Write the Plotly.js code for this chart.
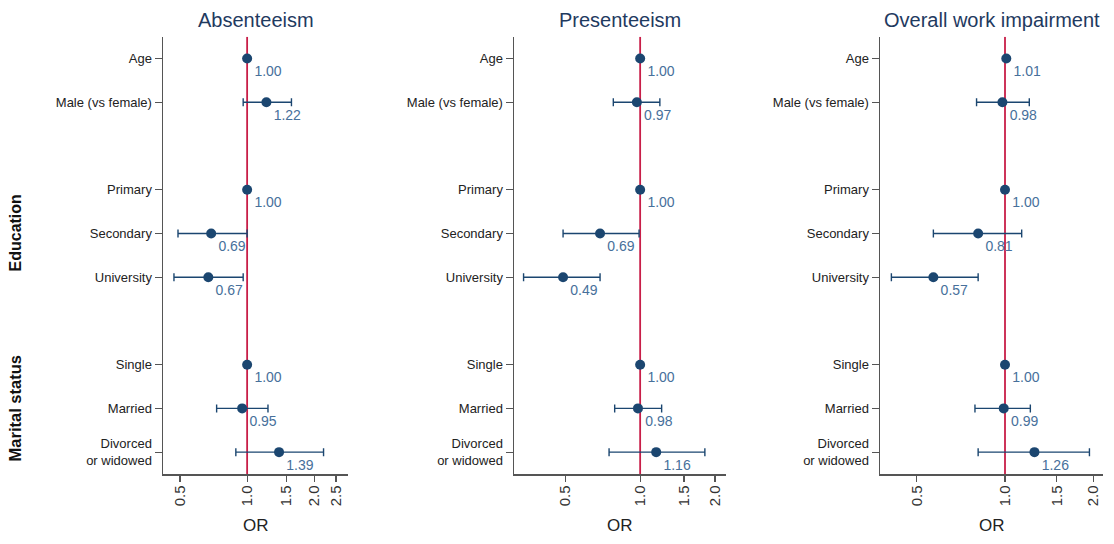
<!DOCTYPE html>
<html><head><meta charset="utf-8">
<script src="https://cdn.plot.ly/plotly-3.0.1.min.js"></script>
<style>html,body{margin:0;padding:0;background:#fff}#chart{width:1114px;height:544px}</style>
</head><body><div id="chart"></div>
<script>
// Rows (categories) and their vertical slots (gaps separate groups)
const rowLabels = ['Age','Male (vs female)','Primary','Secondary','University','Single','Married','Divorced<br>or widowed'];
const rowSlots = [0,1,3,4,5,7,8,9];
const groupLabels = ['Education','Marital status'];
const panelTitles = ['Absenteeism','Presenteeism','Overall work impairment'];

// Odds ratios with 95% CI (null = reference / CI not visible)
const absOR = [1.00,1.22,1.00,0.69,0.67,1.00,0.95,1.39];
const absLo = [null,0.96,null,0.49,0.47,null,0.73,0.89];
const absHi = [null,1.58,null,1.00,0.96,null,1.24,2.20];

const presOR = [1.00,0.97,1.00,0.69,0.49,1.00,0.98,1.16];
const presLo = [null,0.78,null,0.49,0.34,null,0.79,0.75];
const presHi = [null,1.20,null,0.99,0.69,null,1.22,1.82];

const owiOR = [1.01,0.98,1.00,0.81,0.57,1.00,0.99,1.26];
const owiLo = [null,0.80,null,0.57,0.41,null,0.79,0.81];
const owiHi = [null,1.21,null,1.14,0.81,null,1.22,1.94];

const tickVals1 = [0.5,1,1.5,2,2.5];
const tickVals23 = [0.5,1,1.5,2];
const refOR = 1;

const W = 1114, H = 544;
const navy = '#1b4670', labelBlue = '#47709b', red = '#c81e48', axisCol = '#555';
const font = 'Liberation Sans, Arial, sans-serif';

const panels = [
  {or: absOR, lo: absLo, hi: absHi, xr: [-0.377,0.452], ticks: tickVals1, dom: [163/W, 348/W]},
  {or: presOR, lo: presLo, hi: presHi, xr: [-0.507,0.345], ticks: tickVals23, dom: [514/W, 726/W]},
  {or: owiOR, lo: owiLo, hi: owiHi, xr: [-0.426,0.334], ticks: tickVals23, dom: [880/W, 1103/W]}
];
const yRange = [9.5,-0.5];
const yDom = [1-474/H, 1-36.7/H];

const traces = [], layout = {
  width: W, height: H, margin: {l:0,r:0,t:0,b:0},
  paper_bgcolor:'#fff', plot_bgcolor:'#fff', showlegend:false,
  font: {family: font, color:'#222'}, annotations: []
};

panels.forEach((p, i) => {
  const sfx = i === 0 ? '' : String(i+1);
  const xa = 'x'+sfx, ya = 'y'+sfx;
  // reference line at OR = 1
  traces.push({x:[refOR,refOR], y:[yRange[1],yRange[0]], xaxis:xa, yaxis:ya, mode:'lines',
    line:{color:red, width:1.8}, hoverinfo:'skip', cliponaxis:false});
  traces.push({
    x: p.or, y: rowSlots, xaxis: xa, yaxis: ya, mode: 'markers+text',
    text: p.or.map(v => v.toFixed(2)), textposition: 'bottom right',
    textfont: {size: 14, color: labelBlue, family: font},
    marker: {size: 10, color: navy},
    error_x: {type:'data', symmetric:false,
      array: p.or.map((v,k) => p.hi[k]==null ? 0 : p.hi[k]-v),
      arrayminus: p.or.map((v,k) => p.lo[k]==null ? 0 : v-p.lo[k]),
      color: navy, thickness: 1.4, width: 4, visible: true},
    cliponaxis: false
  });
  layout['xaxis'+sfx] = {
    type:'log', range:p.xr, domain:p.dom, anchor:ya,
    tickvals:p.ticks, ticktext:p.ticks.map(v=>v.toFixed(1)), tickangle:-90,
    ticks:'outside', ticklen:6, tickcolor:axisCol, tickwidth:1.2, ticklabelstandoff:-2,
    showline:true, linecolor:axisCol, linewidth:1.5, showgrid:false, zeroline:false,
    tickfont:{size:15, color:'#333', family:font}, fixedrange:true
  };
  layout['yaxis'+sfx] = {
    range:yRange, domain:yDom, anchor:xa,
    tickvals:rowSlots, ticktext:rowLabels,
    ticks:'outside', ticklen:7, tickcolor:axisCol, tickwidth:1.2,
    showline:true, linecolor:axisCol, linewidth:1.5, showgrid:false, zeroline:false,
    tickfont:{size:13, color:'#222', family:font}, fixedrange:true
  };
  layout.annotations.push({text: panelTitles[i], xref: xa+' domain', x:0.5, yref:'paper', y:1-20/H,
    xanchor:'center', yanchor:'middle', showarrow:false, font:{size:20, color:'#1f3a5f', family:font}});
  layout.annotations.push({text: 'OR', xref: xa+' domain', x:0.5, yref:'paper', y:1-525/H,
    xanchor:'center', yanchor:'middle', showarrow:false, font:{size:17, color:'#222', family:font}});
});

layout.annotations.push({text:'<b>'+groupLabels[0]+'</b>', xref:'paper', x:15/W, yref:'y', y:rowSlots[3],
  textangle:-90, showarrow:false, xanchor:'center', yanchor:'middle', font:{size:16,color:'#111',family:font}});
layout.annotations.push({text:'<b>'+groupLabels[1]+'</b>', xref:'paper', x:15/W, yref:'y', y:rowSlots[6],
  textangle:-90, showarrow:false, xanchor:'center', yanchor:'middle', font:{size:16.5,color:'#111',family:font}});

Plotly.newPlot('chart', traces, layout, {staticPlot:true});
</script></body></html>
